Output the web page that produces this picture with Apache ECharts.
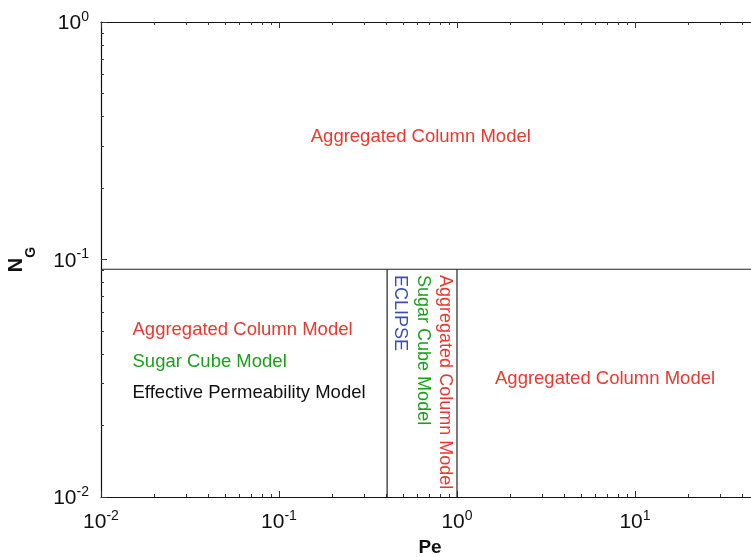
<!DOCTYPE html>
<html><head><meta charset="utf-8">
<script src="https://cdn.jsdelivr.net/npm/echarts@6/dist/echarts.min.js"></script>
<style>html,body{margin:0;padding:0;background:#fff}#c{width:751px;height:557px}</style>
</head><body><div id="c"></div>
<script>
// ----- data -----
const xMajorTicks = [0.01, 0.1, 1, 10, 100];
const xMinorTicks = [0.02,0.03,0.04,0.05,0.06,0.07,0.08,0.09,0.2,0.3,0.4,0.5,0.6,0.7,0.8,0.9,2,3,4,5,6,7,8,9,20,30,40,50,60,70,80,90];
const yMajorTicks = [0.01, 0.1, 1];
const yMinorTicks = [0.02,0.03,0.04,0.05,0.06,0.07,0.08,0.09,0.2,0.3,0.4,0.5,0.6,0.7,0.8,0.9];
const peRange = [0.01, 100];
const ngRange = [0.01, 1];
const ngBoundary = 0.091;           // horizontal regime boundary
const peBoundaries = [0.405, 1.0];  // vertical regime boundaries
// horizontal annotations
const hTexts  = ['Aggregated Column Model','Aggregated Column Model','Sugar Cube Model','Effective Permeability Model','Aggregated Column Model'];
const hPe     = [0.626, 0.01503, 0.01503, 0.01503, 1.635];
const hNG     = [0.329, 0.0505, 0.0372, 0.0274, 0.0314];
const hAlign  = ['center','left','left','left','left'];
const hColors = ['#e8392e','#e8392e','#1c9e1c','#111111','#e8392e'];
// vertical annotations
const vTexts  = ['ECLIPSE','Sugar Cube Model','Aggregated Column Model'];
const vPe     = [0.478, 0.644, 0.856];
const vNG     = [0.086, 0.086, 0.086];
const vColors = ['#3b4fb3','#1c9e1c','#e8392e'];

// ----- chart -----
const FONT = '"Liberation Sans", Arial, Helvetica, sans-serif';
const chart = echarts.init(document.getElementById('c'), null, {renderer:'canvas'});
const supFmt = v => '{b|10}{s|' + Math.round(Math.log10(v)) + '}';
const richTick = {
  b:{fontSize:21, fontFamily:FONT, color:'#111', verticalAlign:'bottom', lineHeight:24},
  s:{fontSize:14, fontFamily:FONT, color:'#111', verticalAlign:'top', lineHeight:24}
};
function xAx(pos, ticks, len, line, labels, extra) {
  return Object.assign({
    type:'log', logBase:10, min:peRange[0], max:peRange[1], position:pos, gridIndex:0,
    axisLine:{show:line, lineStyle:{color:'#111', width:1.2}},
    axisTick:{show:true, inside:true, length:len, customValues:ticks, lineStyle:{color:'#333', width:1}},
    axisLabel:labels ? {show:true, customValues:xMajorTicks, formatter:supFmt, rich:richTick, margin:12} : {show:false},
    splitLine:{show:false}, minorTick:{show:false}
  }, extra||{});
}
function yAx(ticks, len, line, labels, extra) {
  return Object.assign({
    type:'log', logBase:10, min:ngRange[0], max:ngRange[1], position:'left', gridIndex:0,
    axisLine:{show:line, lineStyle:{color:'#111', width:1.2}},
    axisTick:{show:true, inside:true, length:len, customValues:ticks, lineStyle:{color:'#333', width:1}},
    axisLabel:labels ? {show:true, customValues:yMajorTicks, formatter:supFmt, rich:richTick, margin:12} : {show:false},
    splitLine:{show:false}, minorTick:{show:false}
  }, extra||{});
}
const series = [];
series.push({type:'line', xAxisIndex:0, yAxisIndex:0, symbol:'none', silent:true,
  lineStyle:{color:'#222', width:1.2}, data:[[peRange[0], ngBoundary],[peRange[1], ngBoundary]]});
peBoundaries.forEach(p => series.push({type:'line', xAxisIndex:0, yAxisIndex:0, symbol:'none', silent:true,
  lineStyle:{color:'#222', width:1.2}, data:[[p, ngRange[0]],[p, ngBoundary]]}));
series.push({type:'scatter', xAxisIndex:0, yAxisIndex:0, symbolSize:0, silent:true, itemStyle:{opacity:1},
  data: hTexts.map((t,i)=>({value:[hPe[i], hNG[i]], label:{show:true, formatter:t, position:[0,0],
    align:hAlign[i], verticalAlign:'middle', color:hColors[i], opacity:1, fontSize:18.5, fontFamily:FONT}}))});
series.push({type:'scatter', xAxisIndex:0, yAxisIndex:0, symbolSize:0, silent:true, itemStyle:{opacity:1},
  data: vTexts.map((t,i)=>({value:[vPe[i], vNG[i]], label:{show:true, formatter:t, position:[0,0], rotate:-90,
    align:'left', verticalAlign:'middle', color:vColors[i], opacity:1, fontSize:18, fontFamily:FONT}}))});

chart.setOption({
  animation:false,
  grid:{left:101, top:22, width:712, height:475, containLabel:false, outerBoundsMode:'none'},
  xAxis:[
    xAx('bottom', xMajorTicks, 6, true, true, {name:'Pe', nameLocation:'middle', nameGap:40,
      nameTextStyle:{fontSize:19, fontWeight:'bold', fontFamily:FONT, color:'#111', padding:[0,54,0,0]}}),
    xAx('bottom', xMinorTicks, 3, false, false),
    xAx('top', xMajorTicks, 6, true, false),
    xAx('top', xMinorTicks, 3, false, false)
  ],
  yAxis:[
    yAx(yMajorTicks, 6, true, true, {name:'{n|N}{g|G}', nameLocation:'middle', nameGap:73, nameRotate:90,
      nameTextStyle:{rich:{
        n:{fontSize:20, fontWeight:'bold', fontFamily:FONT, color:'#111', verticalAlign:'top', lineHeight:22},
        g:{fontSize:14, fontWeight:'bold', fontFamily:FONT, color:'#111', verticalAlign:'top', lineHeight:14, padding:[18,0,0,0]}
      }}}),
    yAx(yMinorTicks, 3, false, false)
  ],
  series: series
});
</script></body></html>
